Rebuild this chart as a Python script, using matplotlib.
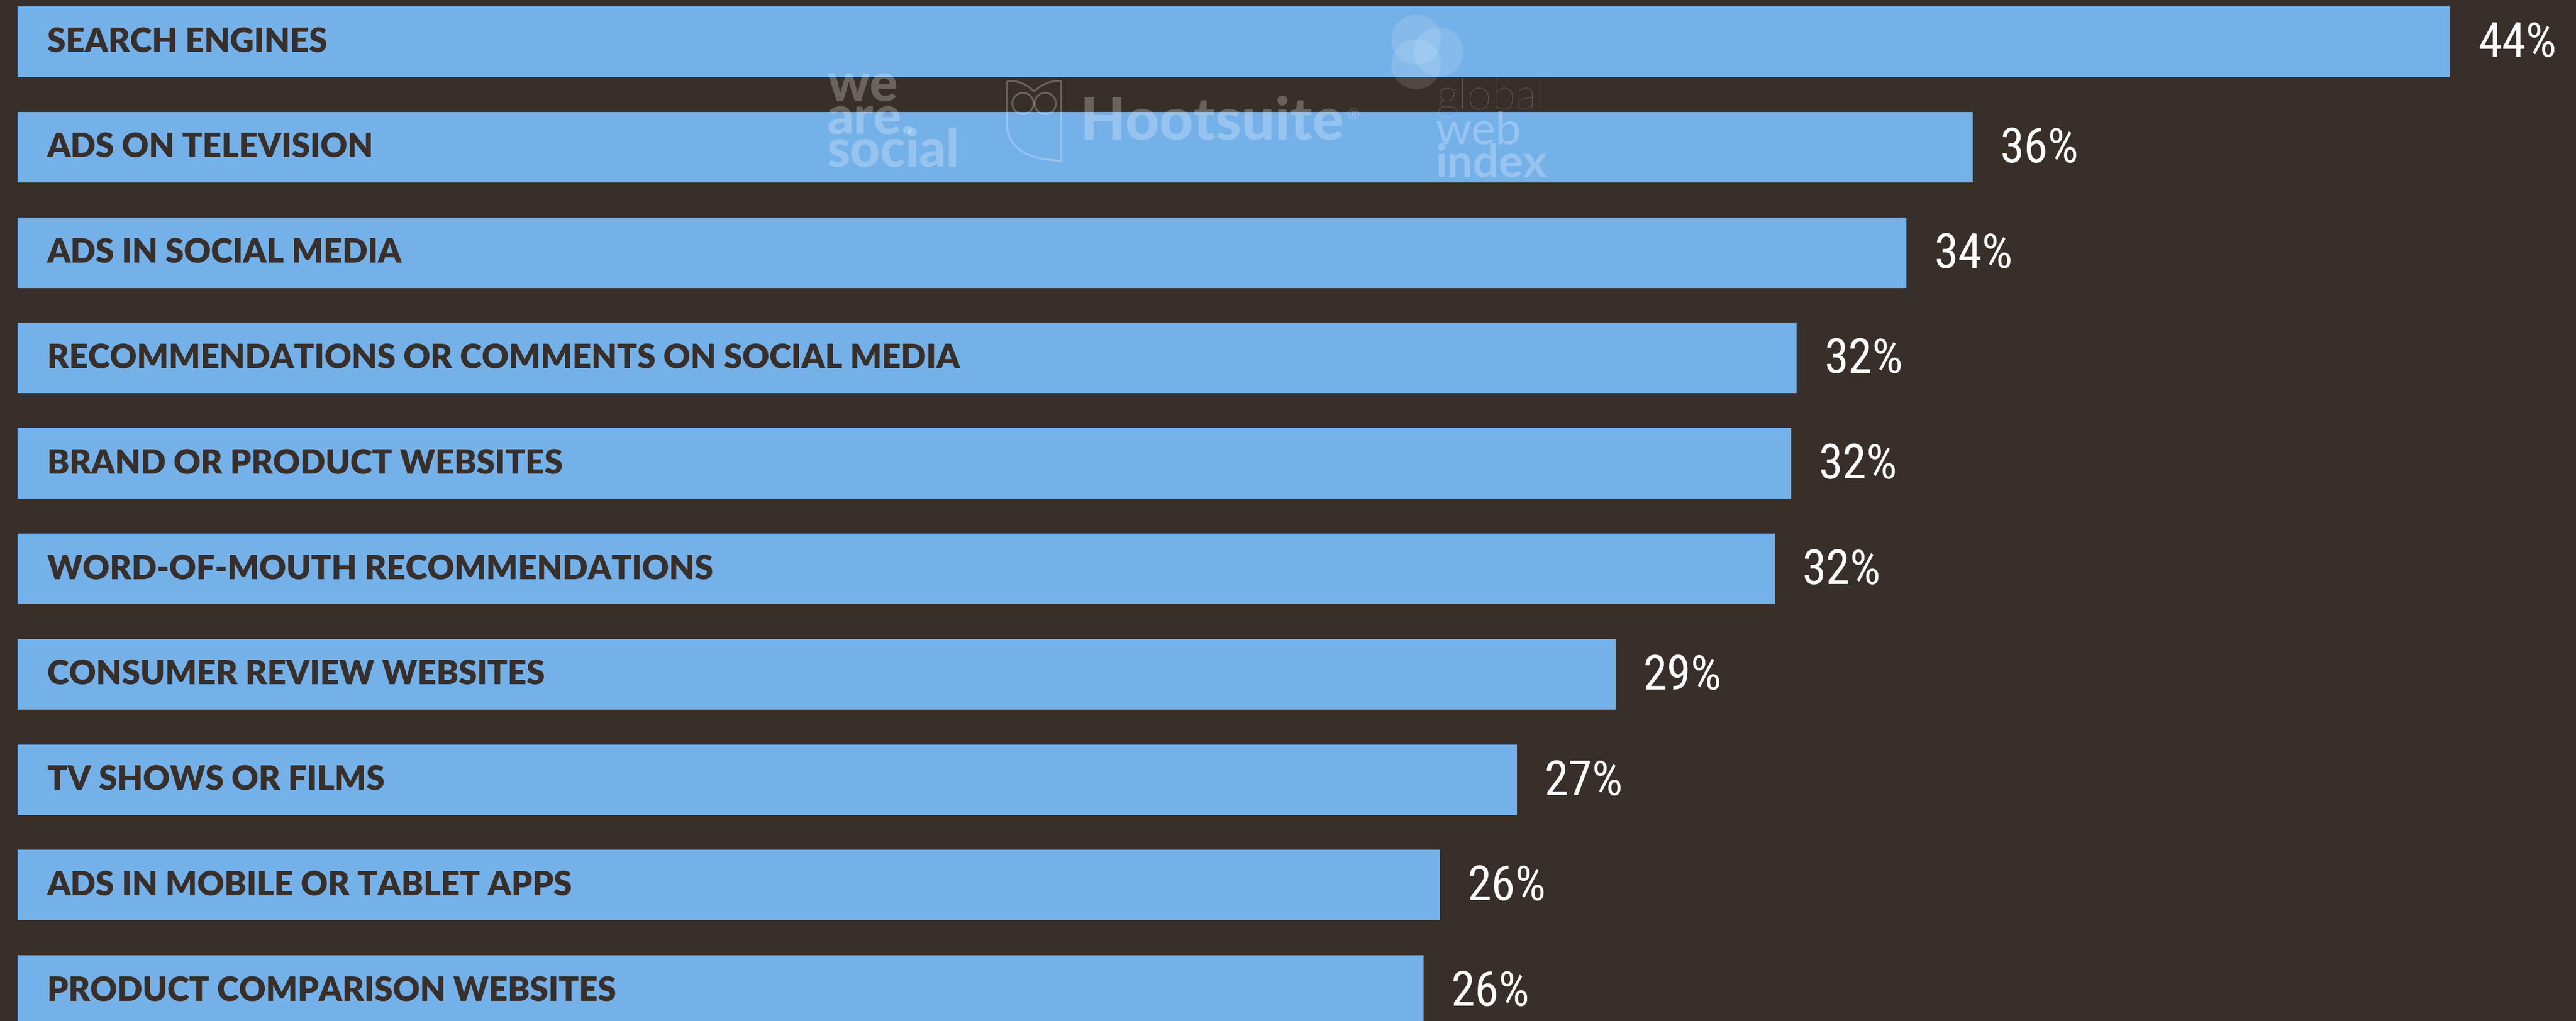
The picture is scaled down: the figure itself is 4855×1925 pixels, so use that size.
import matplotlib
matplotlib.use("Agg")
import matplotlib.pyplot as plt
from matplotlib import font_manager
from matplotlib.patches import Circle, PathPatch
from matplotlib.path import Path

# ===== data =====
categories = [
    "SEARCH ENGINES",
    "ADS ON TELEVISION",
    "ADS IN SOCIAL MEDIA",
    "RECOMMENDATIONS OR COMMENTS ON SOCIAL MEDIA",
    "BRAND OR PRODUCT WEBSITES",
    "WORD-OF-MOUTH RECOMMENDATIONS",
    "CONSUMER REVIEW WEBSITES",
    "TV SHOWS OR FILMS",
    "ADS IN MOBILE OR TABLET APPS",
    "PRODUCT COMPARISON WEBSITES",
]
values = [44.3, 35.6, 34.4, 32.4, 32.3, 32.0, 29.1, 27.3, 25.9, 25.6]
value_labels = ["44%", "36%", "34%", "32%", "32%", "32%", "29%", "27%", "26%", "26%"]

BG = "#382F2A"
BAR = "#75B1E9"
W, H, DPI = 4855, 1925, 100

# narrowest installed family for the percentages
avail = {f.name for f in font_manager.fontManager.ttflist}
COND = next((n for n in ["Roboto Condensed", "Liberation Sans Narrow",
                         "Open Sans Condensed"] if n in avail), "Roboto")

fig = plt.figure(figsize=(W / DPI, H / DPI), dpi=DPI)
fig.patch.set_facecolor(BG)

ax = fig.add_axes([0, 0, 1, 1])
ax.set_facecolor(BG)
pos = list(range(len(categories)))
ax.barh(pos, values, height=0.669, left=0, color=BAR)
ax.set_xlim(-0.319, 46.59)
ax.set_ylim(9.288, -0.395)
ax.axis("off")

for i, (cat, v, lab) in enumerate(zip(categories, values, value_labels)):
    ax.annotate(cat, xy=(0, i + 0.098), xytext=(40.3, 0), textcoords="offset points",
                ha="left", va="baseline", fontsize=45, color=BG,
                family="Lato", weight="heavy")
    ax.annotate(lab, xy=(v, i + 0.143), xytext=(37.4, 0), textcoords="offset points",
                ha="left", va="baseline", fontsize=65.8, color="white",
                family=COND)

# ===== watermark logos (pixel overlay) =====
ov = fig.add_axes([0, 0, 1, 1], zorder=5)
ov.set_xlim(0, W)
ov.set_ylim(H, 0)
ov.axis("off")
WM = dict(color="white", alpha=0.25, ha="left", va="baseline", family="Lato")

for txt, y in [("we", 190), ("are.", 252), ("social", 314)]:
    ov.text(1559, y, txt, fontsize=71, weight="black", **WM)

owl = Path([(1898, 153), (1898, 240), (1905, 300), (2000, 303), (2000, 153),
            (1973, 150), (1949, 172), (1925, 150), (1898, 153)],
           [Path.MOVETO, Path.LINETO, Path.CURVE3, Path.CURVE3, Path.LINETO,
            Path.CURVE3, Path.CURVE3, Path.CURVE3, Path.CURVE3])
ov.add_patch(PathPatch(owl, fill=False, edgecolor="white", alpha=0.25, lw=2.5))
for cx in (1928, 1970):
    ov.add_patch(Circle((cx, 195), 20, fill=False, edgecolor="white", alpha=0.25, lw=2.5))
ov.text(2036, 263, "Hootsuite", fontsize=79.8, weight="black", **WM)
ov.text(2540, 226, "®", fontsize=20, **WM)

for cx, cy in [(2669, 75), (2711, 98), (2669, 121)]:
    ov.add_patch(Circle((cx, cy), 47, color="white", alpha=0.12, lw=0))
ov.text(2706, 207, "global", fontsize=60, weight="light", **WM)
ov.text(2706, 272, "web", fontsize=62, weight="normal", **WM)
ov.text(2706, 334, "index", fontsize=62, weight="bold", **WM)

fig.savefig("out.png", dpi=DPI, facecolor=BG)
